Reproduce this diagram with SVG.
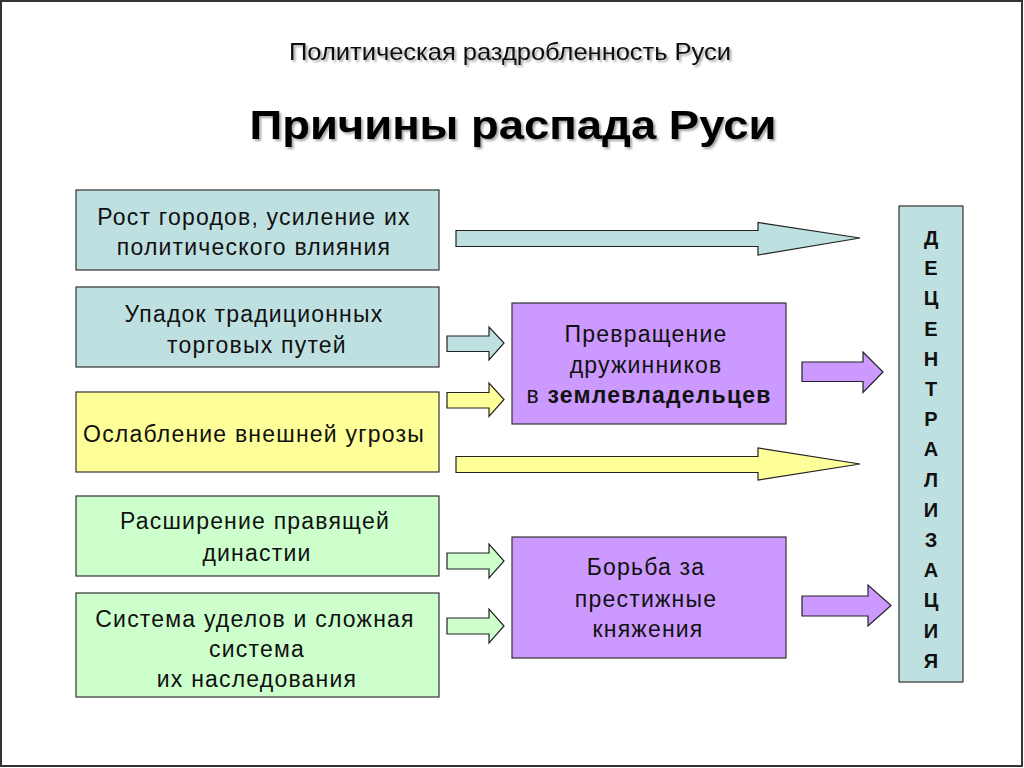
<svg xmlns="http://www.w3.org/2000/svg" width="1024" height="768" viewBox="0 0 1024 768">
<defs>
<filter id="sh" x="-5%" y="-20%" width="110%" height="150%">
<feDropShadow dx="2" dy="2" stdDeviation="1" flood-color="#000" flood-opacity="0.35"/>
</filter>
</defs>
<style>
.frame{fill:#fff;stroke:#333;stroke-width:2}
.box{stroke:#333;stroke-width:1.2}
.teal{fill:#bfe0e1}
.yel{fill:#ffff99}
.grn{fill:#ccffcc}
.pur{fill:#cc99ff}
.t{font-family:"Liberation Sans",Arial,sans-serif;font-size:23px;letter-spacing:1.2px;fill:#111;text-anchor:middle}
.b{font-weight:bold}
.v{font-family:"Liberation Sans",Arial,sans-serif;font-size:20px;font-weight:bold;fill:#111;text-anchor:middle}
.arr{stroke:#222;stroke-width:1.2;stroke-linejoin:miter}
</style>
<rect class="frame" x="1" y="1" width="1021" height="765"/>
<g id="titles" filter="url(#sh)">
<text x="510" y="60" font-family="'Liberation Sans',Arial,sans-serif" font-size="24" fill="#111" text-anchor="middle" textLength="442" lengthAdjust="spacingAndGlyphs">Политическая раздробленность Руси</text>
<text x="513" y="139" font-family="'Liberation Sans',Arial,sans-serif" font-size="40" font-weight="bold" fill="#000" text-anchor="middle" textLength="527" lengthAdjust="spacingAndGlyphs">Причины распада Руси</text>
</g>
<g id="n1"><rect class="box teal" x="76" y="190" width="363" height="80"/>
<text class="t" x="254" y="225">Рост городов, усиление их</text>
<text class="t" x="254" y="255">политического влияния</text></g>
<g id="n2"><rect class="box teal" x="76" y="287" width="363" height="80"/>
<text class="t" x="254" y="322">Упадок традиционных</text>
<text class="t" x="257" y="353">торговых путей</text></g>
<g id="n3"><rect class="box yel" x="76" y="392" width="363" height="80"/>
<text class="t" x="254" y="442">Ослабление внешней угрозы</text></g>
<g id="n4"><rect class="box grn" x="76" y="496" width="363" height="80"/>
<text class="t" x="255" y="529">Расширение правящей</text>
<text class="t" x="257" y="561">династии</text></g>
<g id="n5"><rect class="box grn" x="76" y="593" width="363" height="104"/>
<text class="t" x="255" y="627">Система уделов и сложная</text>
<text class="t" x="257" y="657">система</text>
<text class="t" x="257" y="687">их наследования</text></g>
<g id="p1"><rect class="box pur" x="512" y="303" width="274" height="121"/>
<text class="t" x="646" y="342">Превращение</text>
<text class="t" x="646" y="373">дружинников</text>
<text class="t" x="649" y="403">в <tspan class="b">землевладельцев</tspan></text></g>
<g id="p2"><rect class="box pur" x="512" y="537" width="274" height="121"/>
<text class="t" x="646" y="575">Борьба за</text>
<text class="t" x="646" y="607">престижные</text>
<text class="t" x="648" y="637">княжения</text></g>
<g id="dec"><rect class="box teal" x="899" y="206" width="64" height="476"/>
<text class="v" x="931" y="245">Д</text>
<text class="v" x="931" y="275">Е</text>
<text class="v" x="931" y="305">Ц</text>
<text class="v" x="931" y="336">Е</text>
<text class="v" x="931" y="366">Н</text>
<text class="v" x="931" y="396">Т</text>
<text class="v" x="931" y="426">Р</text>
<text class="v" x="931" y="456">А</text>
<text class="v" x="931" y="487">Л</text>
<text class="v" x="931" y="517">И</text>
<text class="v" x="931" y="547">З</text>
<text class="v" x="931" y="577">А</text>
<text class="v" x="931" y="607">Ц</text>
<text class="v" x="931" y="638">И</text>
<text class="v" x="931" y="668">Я</text></g>
<g id="connectors">
<polygon class="arr teal" points="456,230.5 758,230.5 758,222.5 860,238 758,255 758,246.5 456,246.5"/>
<polygon class="arr yel" points="456,456.5 758,456.5 758,448 860,464 758,480 758,472.5 456,472.5"/>
<polygon class="arr teal" points="447,336 489,336 489,327 504,343 489,360 489,351.5 447,351.5"/>
<polygon class="arr yel" points="447,392.5 489,392.5 489,383 504,399.5 489,416.5 489,408 447,408"/>
<polygon class="arr grn" points="447,553 489,553 489,544 504,561 489,578 489,569 447,569"/>
<polygon class="arr grn" points="447,618 489,618 489,609 504,626 489,643 489,634 447,634"/>
<polygon class="arr pur" points="802,362 863,362 863,352 883,372 863,392.5 863,381.5 802,381.5"/>
<polygon class="arr pur" points="802,596 868,596 868,585 891,605.5 868,626 868,616 802,616"/>
</g>
</svg>
